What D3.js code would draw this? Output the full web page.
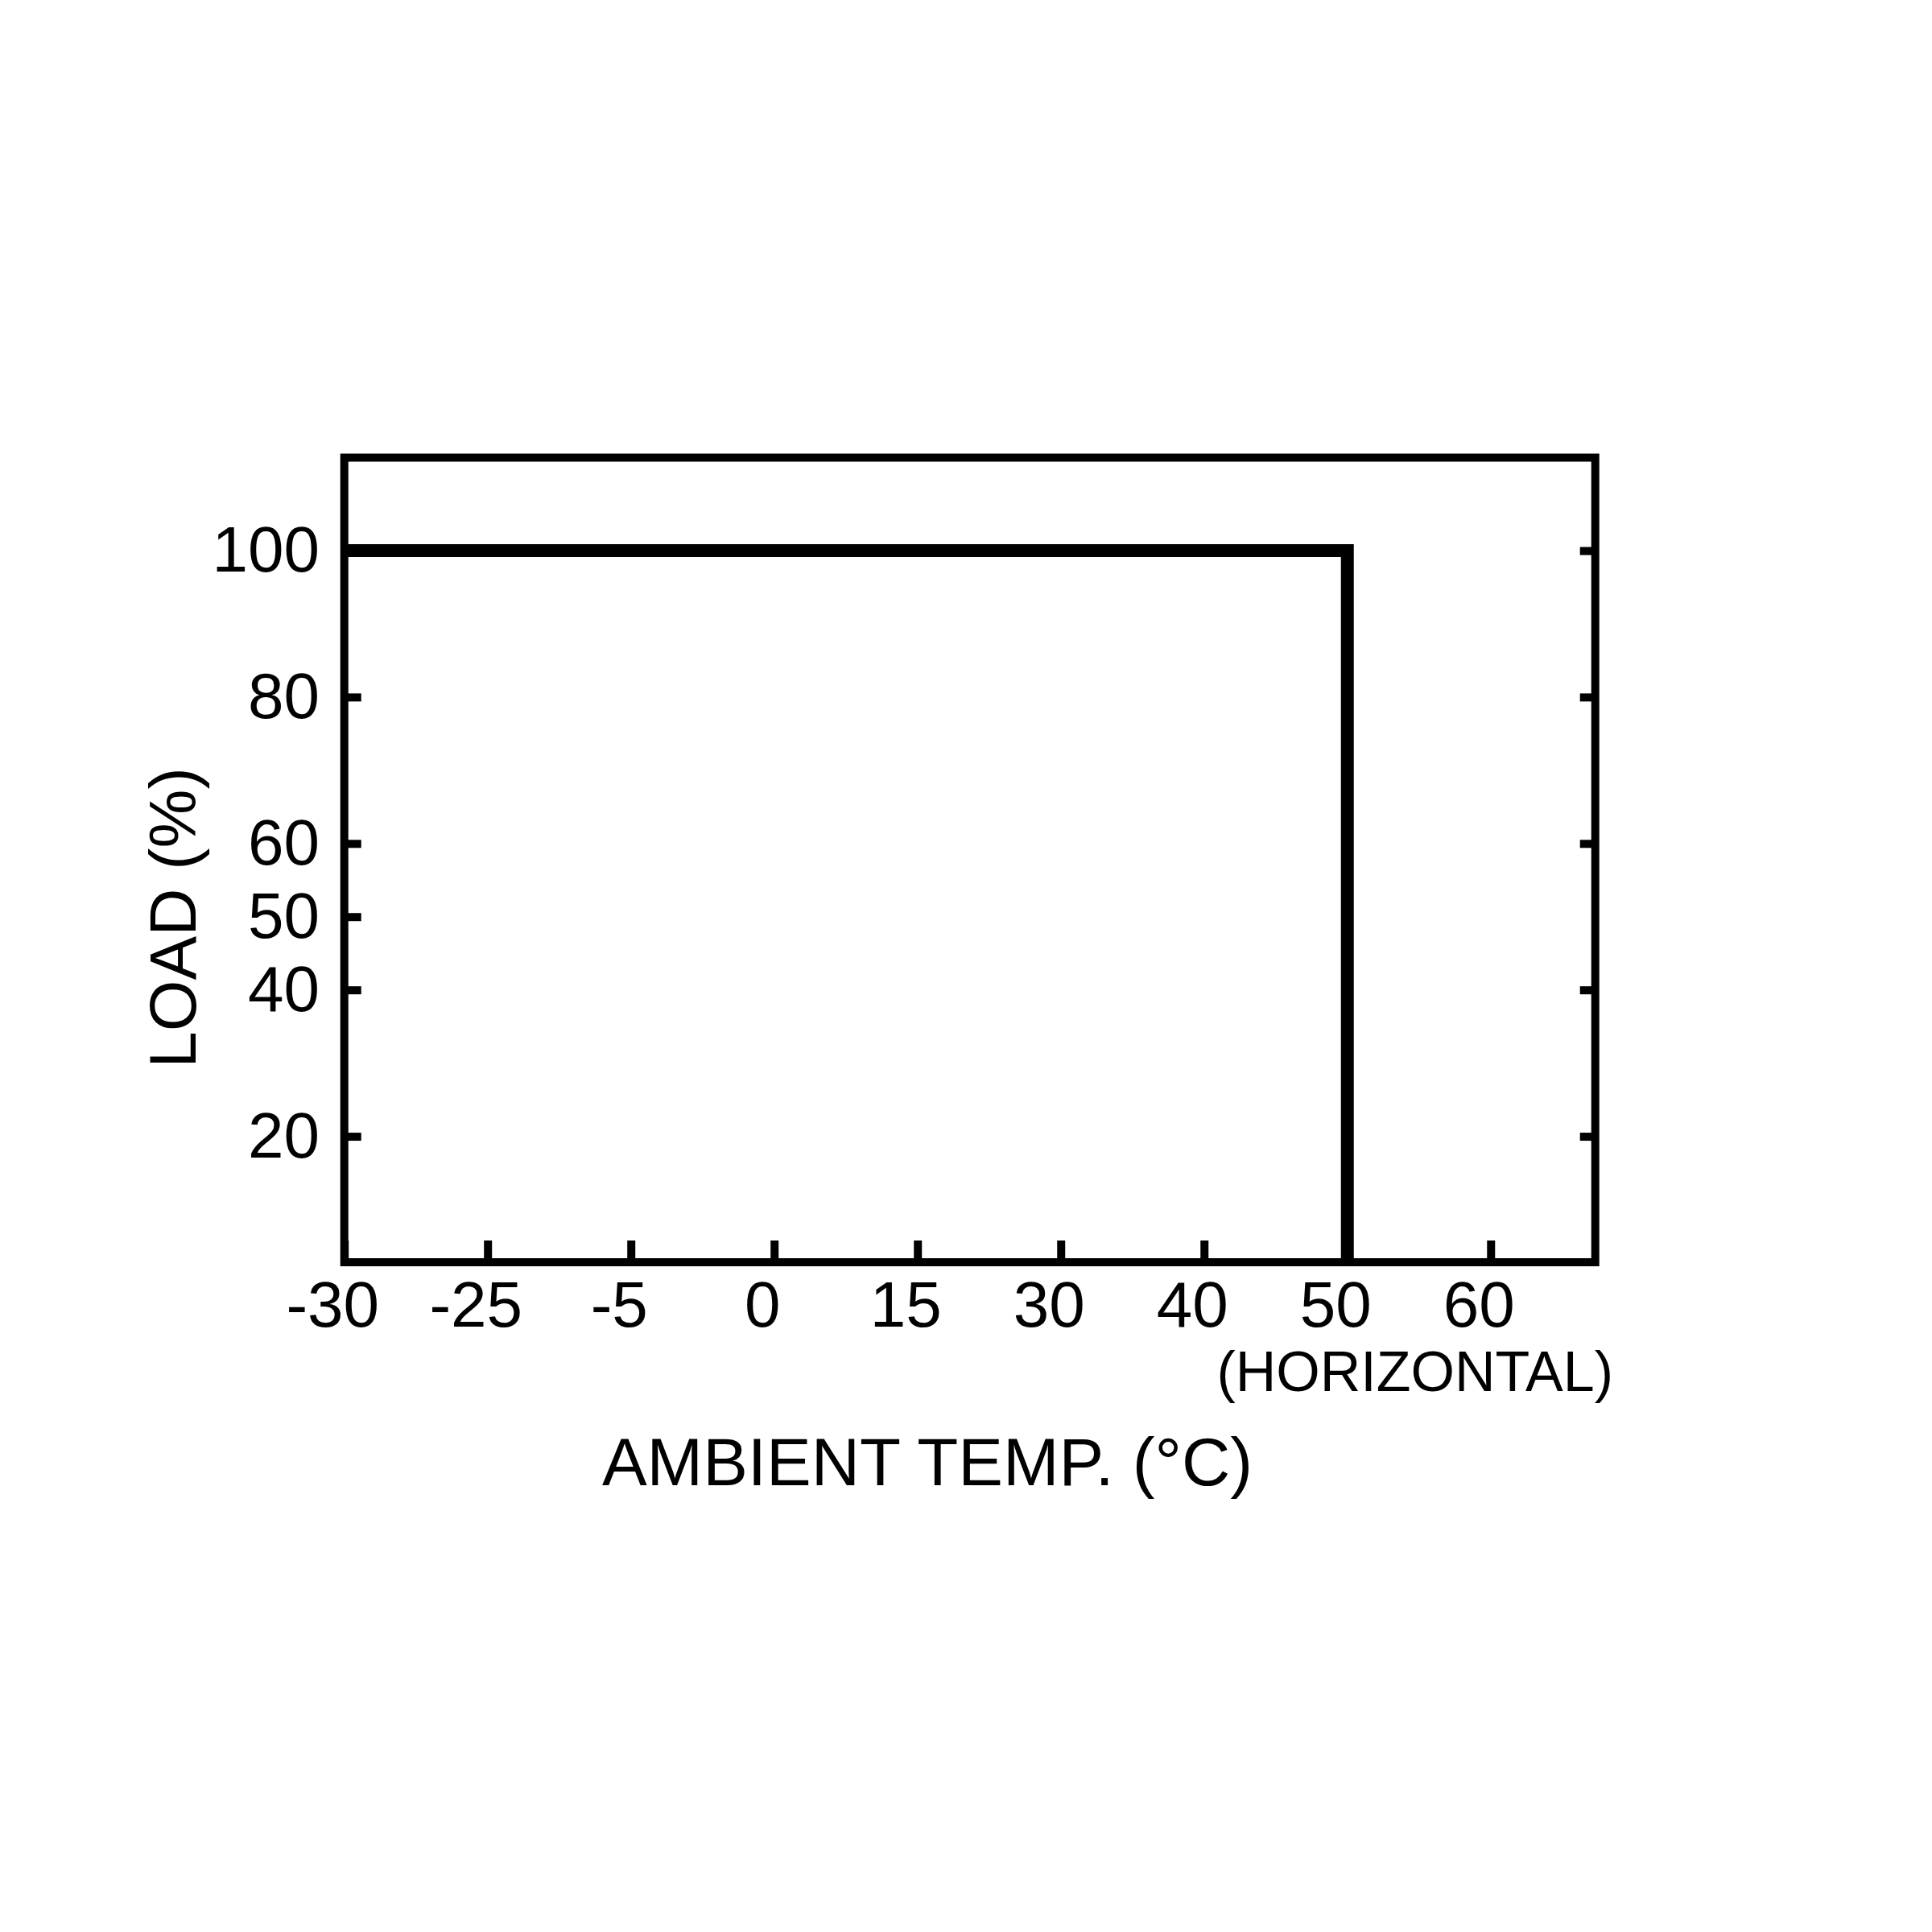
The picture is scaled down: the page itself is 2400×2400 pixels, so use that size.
<!DOCTYPE html>
<html><head><meta charset="utf-8">
<script src="https://cdn.jsdelivr.net/npm/d3@7"></script>
<style>
body{margin:0;background:#fff}
text{font-family:"Liberation Sans",Arial,Helvetica,sans-serif;fill:#000}
</style>
</head><body><svg id="chart" width="2400" height="2400"></svg>
<script>
// ---- data ----
const xTicks = ["-30","-25","-5","0","15","30","40","50","60"];
const yTicks = [20,40,50,60,80,100];
const yTicksRight = [20,40,60,80,100];
const yDomain = [2.8, 112.7];
const lineTemps = ["-30","50","50"];
const lineLoads = [100,100,0];
const xTitle = "AMBIENT TEMP. (°C)";
const xNote = "(HORIZONTAL)";
const yTitle = "LOAD (%)";

// ---- layout ----
const W = 2400, H = 2400;
const margin = {left: 427.7, top: 568.5, right: W - 1981.7, bottom: H - 1568};
const iw = W - margin.left - margin.right;
const ih = H - margin.top - margin.bottom;
const xSpan = 8.73; // plot width measured in tick steps

const x = d3.scalePoint().domain(xTicks).range([0, iw * (xTicks.length - 1) / xSpan]);
const y = d3.scaleLinear().domain(yDomain).range([ih, 0]);

const svg = d3.select("#chart");
svg.append("rect").attr("width", W).attr("height", H).attr("fill", "#fff");

const g = svg.append("g").attr("transform", `translate(${margin.left},${margin.top})`);

g.append("clipPath").attr("id", "plotclip")
  .append("rect").attr("x", 0).attr("y", 0).attr("width", iw).attr("height", ih);

// derating line
const lineData = lineTemps.map((t, i) => ({t, v: lineLoads[i]}));
g.append("path")
  .datum(lineData)
  .attr("clip-path", "url(#plotclip)")
  .attr("fill", "none")
  .attr("stroke", "#000")
  .attr("stroke-width", 16)
  .attr("stroke-linejoin", "miter")
  .attr("d", d3.line().x(d => x(d.t)).y(d => y(d.v)));

function styleAxis(sel, fs) {
  sel.attr("font-family", null).attr("font-size", null);
  sel.select(".domain").remove();
  sel.selectAll(".tick line").attr("stroke", "#000").attr("stroke-width", 10);
  sel.selectAll(".tick text").style("font-size", fs + "px").attr("fill", "#000");
}

// bottom axis
const gx = g.append("g").attr("transform", `translate(0,${ih})`)
  .call(d3.axisBottom(x).tickValues(xTicks).tickSize(-27).tickPadding(23));
styleAxis(gx, 80);
gx.selectAll(".tick text").attr("dx", -15);

// left axis
const gy = g.append("g")
  .call(d3.axisLeft(y).tickValues(yTicks).tickSize(-21).tickPadding(30.7).tickFormat(d3.format("d")));
styleAxis(gy, 80);

// right axis (ticks only)
const gr = g.append("g").attr("transform", `translate(${iw},0)`)
  .call(d3.axisRight(y).tickValues(yTicksRight).tickSize(-19).tickFormat(""));
styleAxis(gr, 80);

// frame
g.append("rect")
  .attr("x", 0).attr("y", 0).attr("width", iw).attr("height", ih)
  .attr("fill", "none").attr("stroke", "#000").attr("stroke-width", 10);

// texts
svg.append("text")
  .attr("x", 2004).attr("y", 1728)
  .attr("text-anchor", "end")
  .style("font-size", "70px")
  .text(xNote);

svg.append("text")
  .attr("x", 1152).attr("y", 1845)
  .attr("text-anchor", "middle")
  .style("font-size", "83.5px")
  .text(xTitle);

svg.append("text")
  .attr("transform", "translate(243,1140) rotate(-90)")
  .attr("text-anchor", "middle")
  .style("font-size", "82px")
  .text(yTitle);
</script>
</body></html>
